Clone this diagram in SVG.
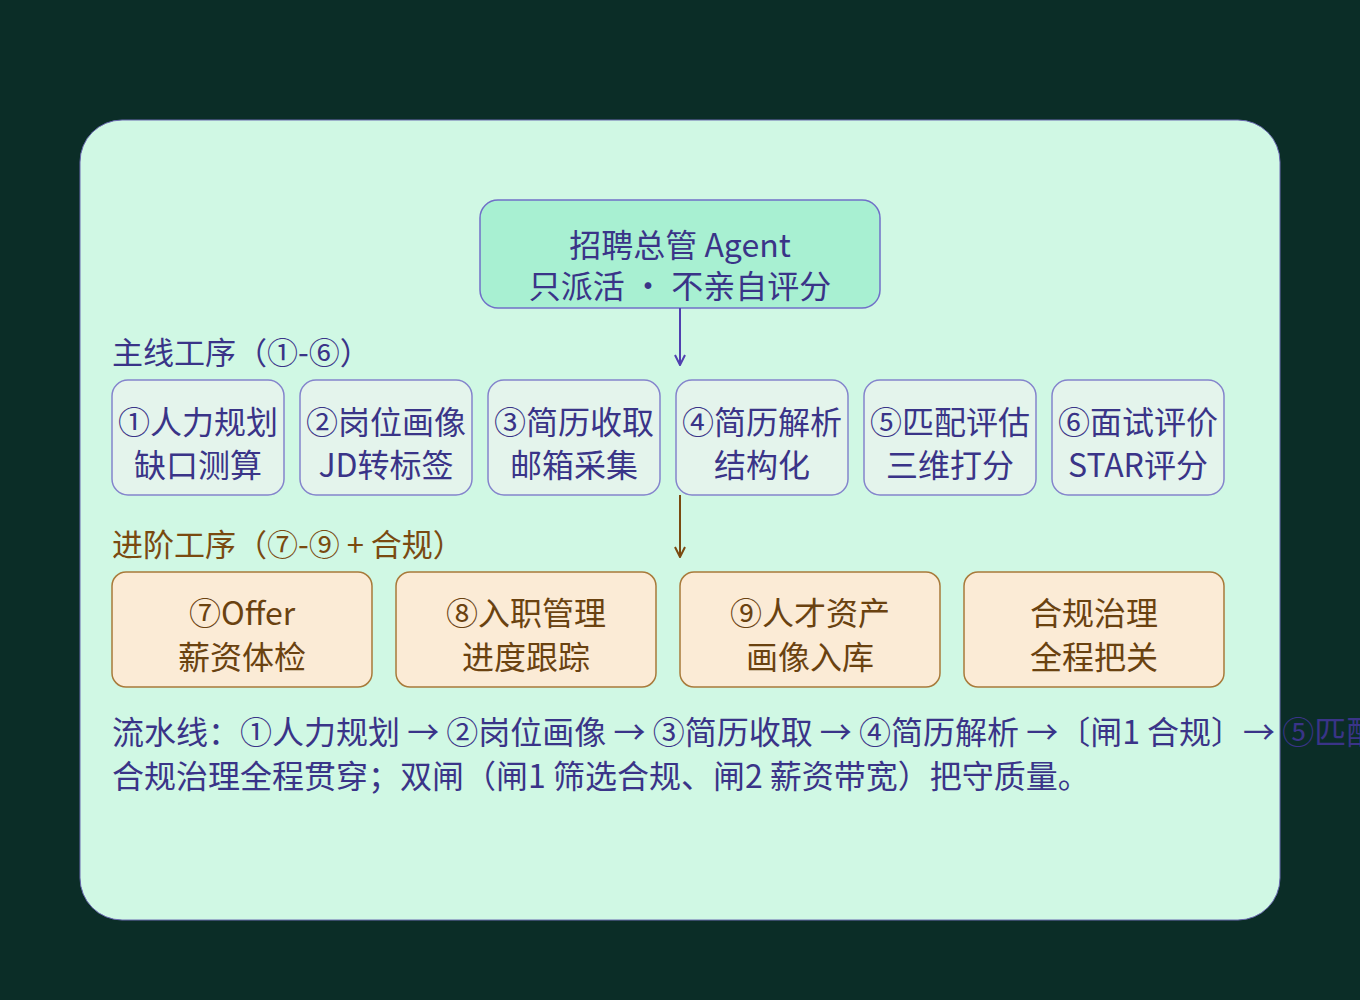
<svg xmlns="http://www.w3.org/2000/svg" width="1360" height="1000" viewBox="0 0 1360 1000">
<defs>
<style>
text{font-family:"Noto Sans CJK SC","Noto Sans",sans-serif}
.b{fill:#e4f4ec;stroke:#8484cc;stroke-width:1.5}
.bt{font-size:32px;fill:#3a3488;text-anchor:middle}
.o{fill:#fbebd6;stroke:#a87a3a;stroke-width:1.5}
.ot{font-size:32px;fill:#6a4210;text-anchor:middle}
</style>
<marker id="ab" viewBox="0 0 12 12" refX="11" refY="6" markerWidth="12" markerHeight="12" markerUnits="userSpaceOnUse" orient="auto"><path d="M1,1 L11,6 L1,11" fill="none" stroke="#5040b0" stroke-width="2"/></marker>
<marker id="ao" viewBox="0 0 12 12" refX="11" refY="6" markerWidth="12" markerHeight="12" markerUnits="userSpaceOnUse" orient="auto"><path d="M1,1 L11,6 L1,11" fill="none" stroke="#7a4a10" stroke-width="2"/></marker>
</defs>
<rect width="1360" height="1000" fill="#0b2d27"/>
<rect x="80" y="120" width="1200" height="800" rx="42" fill="#d0f8e4" stroke="#6a6ab0" stroke-width="1"/>
<g id="top"><rect x="480" y="200" width="400" height="108" rx="18" fill="#a8f0d2" stroke="#7070c8" stroke-width="1.5"/>
<text class="bt" x="680" y="257">招聘总管 Agent</text><text class="bt" x="680" y="298">只派活 · 不亲自评分</text></g>
<g id="connectors">
<line x1="680" y1="308" x2="680" y2="365" stroke="#5040b0" stroke-width="2" marker-end="url(#ab)"/>
<line x1="680" y1="495" x2="680" y2="557" stroke="#7a4a10" stroke-width="2" marker-end="url(#ao)"/>
</g>
<text x="112" y="364" font-size="31" fill="#3a3488">主线工序（①-⑥）</text>
<g id="n1"><rect class="b" x="112" y="380" width="172" height="115" rx="16"/><text class="bt" x="198" y="434">①人力规划</text><text class="bt" x="198" y="477">缺口测算</text></g>
<g id="n2"><rect class="b" x="300" y="380" width="172" height="115" rx="16"/><text class="bt" x="386" y="434">②岗位画像</text><text class="bt" x="386" y="477">JD转标签</text></g>
<g id="n3"><rect class="b" x="488" y="380" width="172" height="115" rx="16"/><text class="bt" x="574" y="434">③简历收取</text><text class="bt" x="574" y="477">邮箱采集</text></g>
<g id="n4"><rect class="b" x="676" y="380" width="172" height="115" rx="16"/><text class="bt" x="762" y="434">④简历解析</text><text class="bt" x="762" y="477">结构化</text></g>
<g id="n5"><rect class="b" x="864" y="380" width="172" height="115" rx="16"/><text class="bt" x="950" y="434">⑤匹配评估</text><text class="bt" x="950" y="477">三维打分</text></g>
<g id="n6"><rect class="b" x="1052" y="380" width="172" height="115" rx="16"/><text class="bt" x="1138" y="434">⑥面试评价</text><text class="bt" x="1138" y="477">STAR评分</text></g>
<text x="112" y="556" font-size="31" fill="#7a4a10">进阶工序（⑦-⑨ + 合规）</text>
<g id="n7"><rect class="o" x="112" y="572" width="260" height="115" rx="14"/><text class="ot" x="242" y="625">⑦Offer</text><text class="ot" x="242" y="669">薪资体检</text></g>
<g id="n8"><rect class="o" x="396" y="572" width="260" height="115" rx="14"/><text class="ot" x="526" y="625">⑧入职管理</text><text class="ot" x="526" y="669">进度跟踪</text></g>
<g id="n9"><rect class="o" x="680" y="572" width="260" height="115" rx="14"/><text class="ot" x="810" y="625">⑨人才资产</text><text class="ot" x="810" y="669">画像入库</text></g>
<g id="n10"><rect class="o" x="964" y="572" width="260" height="115" rx="14"/><text class="ot" x="1094" y="625">合规治理</text><text class="ot" x="1094" y="669">全程把关</text></g>
<text x="112" y="744" font-size="32" fill="#3a3488">流水线：①人力规划 → ②岗位画像 → ③简历收取 → ④简历解析 →〔闸1 合规〕→ ⑤匹配评估 → ⑥面试评价 → ⑦Offer →〔闸2 薪资带宽〕→ ⑧入职管理 → ⑨人才资产</text>
<text x="112" y="788" font-size="32" fill="#3a3488">合规治理全程贯穿；双闸（闸1 筛选合规、闸2 薪资带宽）把守质量。</text>
</svg>
